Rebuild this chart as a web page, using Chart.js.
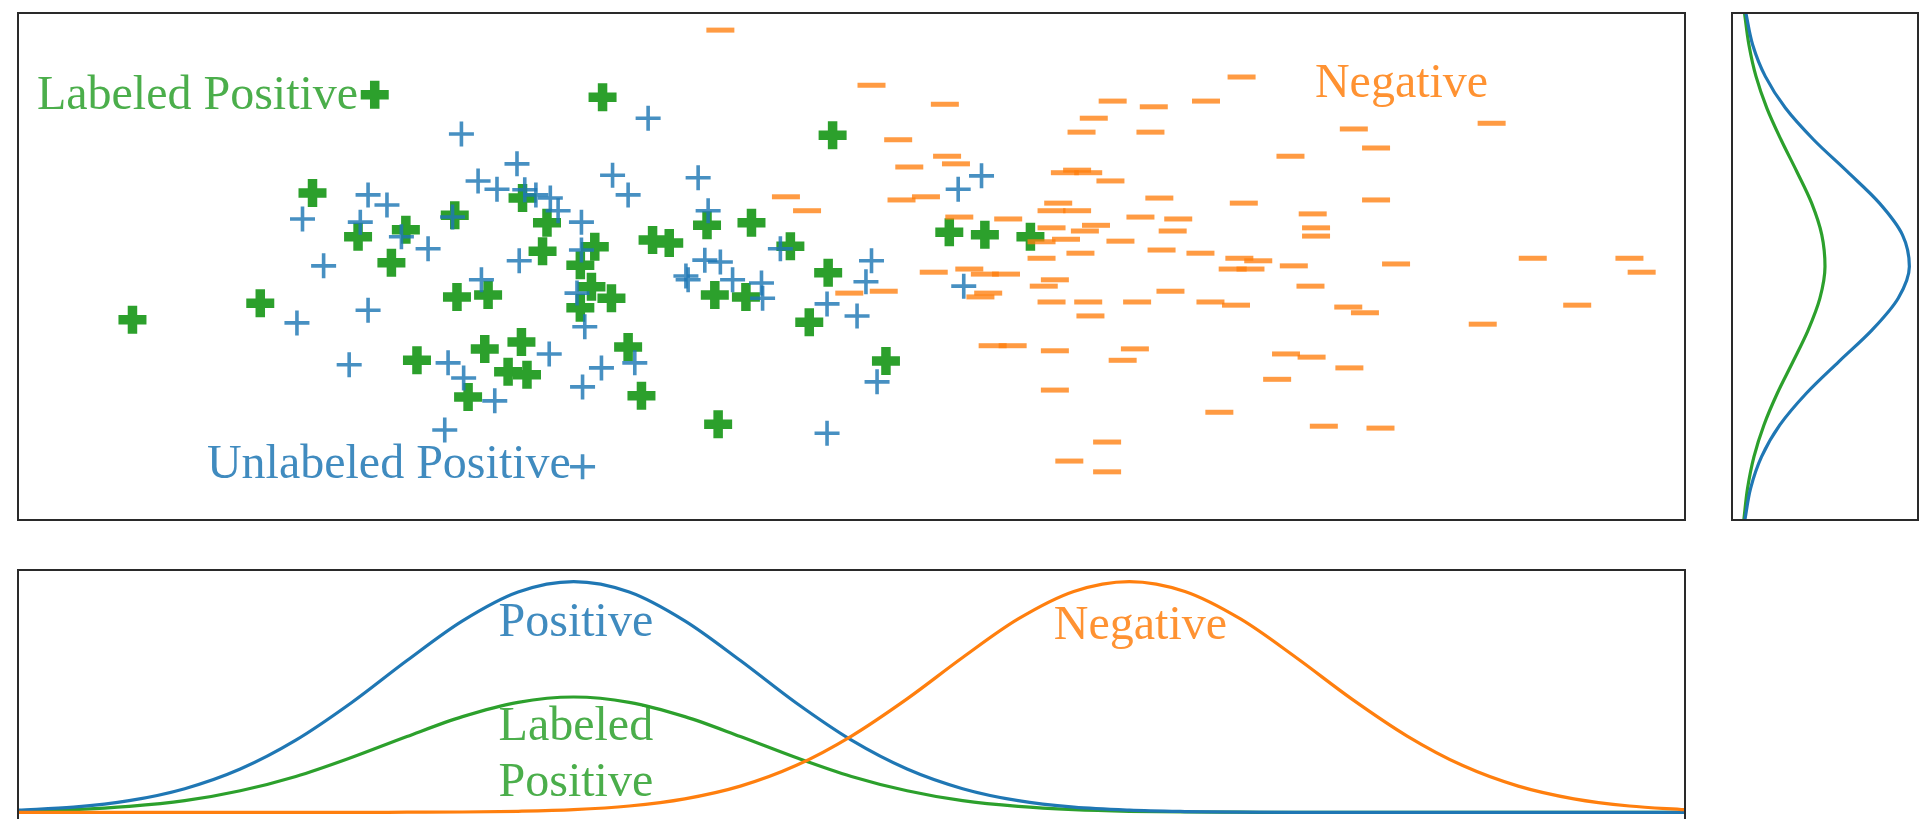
<!DOCTYPE html>
<html>
<head>
<meta charset="utf-8">
<title>PU scatter with marginal densities</title>
<script src="https://cdn.jsdelivr.net/npm/chart.js@4.4.1/dist/chart.umd.min.js"></script>
<style>
  html, body { margin: 0; padding: 0; background: #ffffff; width: 1931px; height: 819px; overflow: hidden; }
  canvas { position: absolute; }
  #scatter  { left: 12px;   top: 7px;   }
  #marginY  { left: 1726px; top: 7px;   }
  #marginX  { left: 12px;   top: 564px; }
</style>
</head>
<body>
<canvas id="scatter" width="1679" height="519" style="width:1679px;height:519px"></canvas>
<canvas id="marginY" width="198" height="519" style="width:198px;height:519px"></canvas>
<canvas id="marginX" width="1679" height="266" style="width:1679px;height:266px"></canvas>
<script>
// ---- sample points (feature 1 on x, feature 2 on y) ----
const unlabeledX = [-1.01,-0.51,-0.86,-0.69,-0.44,-0.34,-0.21,-0.14,0.35,0.49,-1.85,-1.68,-2.44,-1.92,-1.09,-1.55,-1.31,0.07,0.07,-0.49,-2.25,-0.83,0.03,0.10,-1.85,-2.49,-2.02,-1.13,-0.99,-0.71,-0.22,0.25,0.55,0.08,-1.16,1.12,1.21,1.18,1.32,1.01,1.03,1.43,1.69,1.70,1.86,2.28,2.55,2.68,2.63,2.73,2.28,3.46,3.67,3.51,0.67,0.08];
const unlabeledY = [2.09,1.62,1.35,1.22,1.21,1.13,1.08,0.88,1.44,1.13,1.13,0.97,0.75,0.70,0.78,0.47,0.28,0.70,0.26,0.09,0.01,-0.21,-0.42,-0.95,-0.69,-0.89,-1.55,-1.52,-1.76,-2.12,-1.38,-1.60,-1.52,-1.90,-2.58,1.40,0.88,0.10,0.07,-0.15,-0.21,-0.21,-0.26,-0.50,0.28,-0.59,-0.78,0.09,-0.24,-1.82,-2.63,1.22,1.43,-0.31,2.34,-3.16];

const labeledX = [-1.79,0.26,2.33,-2.35,-1.94,-1.51,-1.64,-1.07,-0.46,-0.24,-0.28,0.19,0.06,0.71,0.86,-2.82,-3.97,-1.05,-0.77,0.16,0.34,0.06,-1.41,-0.80,-0.47,-0.59,-0.42,-0.95,0.49,0.61,1.20,1.60,1.95,2.29,1.27,1.55,2.12,2.81,1.30,3.38,3.70,4.11];
const labeledY = [2.71,2.67,2.07,1.16,0.47,0.58,0.06,0.81,1.08,0.69,0.24,0.31,0.02,0.42,0.37,-0.58,-0.84,-0.48,-0.45,-0.32,-0.50,-0.65,-1.48,-1.30,-1.19,-1.66,-1.71,-2.06,-1.27,-2.04,0.65,0.69,0.32,-0.10,-0.45,-0.48,-0.88,-1.49,-2.49,0.54,0.50,0.47];

const negativeX = [1.32,2.68,3.34,2.92,3.36,3.44,3.02,1.91,2.10,2.95,
  3.17,3.47,3.91,3.24,3.56,3.70,3.89,2.48,2.79,3.66,
  3.73,3.77,3.95,4.68,4.57,5.19,7.02,7.22,6.45,4.53,
  4.42,4.63,4.83,5.27,6.03,7.22,4.36,4.30,4.53,5.10,
  5.44,5.39,6.65,6.68,6.68,4.30,4.70,4.60,4.43,4.21,
  4.92,5.29,5.64,5.99,6.16,5.93,6.09,6.48,7.40,4.21,
  4.56,4.33,4.23,5.37,6.63,4.30,4.63,5.07,5.73,5.96,
  6.97,7.12,4.65,4.33,5.05,4.94,6.41,6.64,6.98,6.33,
  4.33,5.81,6.01,5.69,4.85,5.22,8.26,8.63,9.50,9.61,
  8.18,9.03,6.75,7.26,4.80,4.46,4.80];
const negativeY = [3.73,2.86,2.56,2.00,1.74,1.62,1.57,1.10,0.88,1.05,
  1.10,0.78,0.75,-0.09,-0.04,-0.12,-0.12,-0.42,-0.39,-0.48,
  -0.42,-1.25,-1.25,2.34,2.12,2.12,2.17,1.87,1.74,1.52,
  1.48,1.48,1.35,1.08,1.00,1.05,1.00,0.88,0.88,0.78,
  0.75,0.56,0.83,0.61,0.48,0.61,0.65,0.56,0.43,0.39,
  0.40,0.26,0.21,0.13,0.09,-0.04,-0.04,0.01,0.04,0.13,
  0.21,-0.21,-0.31,-0.39,-0.31,-0.56,-0.56,-0.56,-0.56,-0.61,
  -0.64,-0.73,-0.78,-1.33,-1.30,-1.48,-1.38,-1.43,-1.60,-1.78,
  -1.95,-2.30,2.99,2.61,2.61,2.52,2.26,0.13,0.13,-0.09,
  -0.91,-0.61,-2.52,-2.55,-2.77,-3.07,-3.24];

// ---- densities along feature 1 (bottom panel) ----
const gridX = [-5,-4.5,-4,-3.5,-3,-2.5,-2,-1.5,-1,-0.5,0,0.5,1,1.5,2,2.5,3,3.5,4,4.5,5,5.5,6,6.5,7,7.5,8,8.5,9,9.5,10];
const densityPositive = [0.010,0.023,0.051,0.103,0.188,0.313,0.475,0.658,0.830,0.955,1.000,0.955,0.830,0.658,0.475,0.313,0.188,0.103,0.051,0.023,0.010,0.004,0.001,0,0,0,0,0,0,0,0];
const densityLabeled  = [0.005,0.012,0.026,0.051,0.094,0.156,0.238,0.329,0.415,0.477,0.500,0.477,0.415,0.329,0.238,0.156,0.094,0.051,0.026,0.012,0.005,0.002,0.001,0,0,0,0,0,0,0,0];
const densityNegative = [0,0,0,0,0,0,0,0.001,0.002,0.005,0.012,0.028,0.059,0.114,0.203,0.331,0.492,0.671,0.838,0.957,1.000,0.957,0.838,0.671,0.492,0.331,0.203,0.114,0.059,0.028,0.012];

// ---- densities along feature 2 (right panel) ----
const gridY = [-4,-3.5,-3,-2.5,-2,-1.5,-1,-0.5,0,0.5,1,1.5,2,2.5,3,3.5,4];
const marginPositive = [0.026,0.060,0.125,0.233,0.390,0.582,0.779,0.933,0.999,0.958,0.822,0.631,0.433,0.266,0.147,0.072,0.032];
const marginLabeled  = [0.020,0.042,0.080,0.139,0.218,0.311,0.401,0.470,0.500,0.481,0.421,0.333,0.240,0.156,0.092,0.050,0.024];

// ---- text ----
const scatterText = ['Labeled Positive', 'Unlabeled Positive', 'Negative'];
const densityText = ['Positive', 'Labeled', 'Positive', 'Negative'];

// ---- colours ----
const BLUE = '#1f77b4', ORANGE = '#ff7f0e', GREEN = '#2ca02c';
const BLUE_A = 'rgba(31,119,180,0.82)', ORANGE_A = 'rgba(255,127,14,0.78)';
const BLUE_T = 'rgba(31,119,180,0.85)', ORANGE_T = 'rgba(255,127,14,0.85)', GREEN_T = 'rgba(44,160,44,0.85)';
const FONT = '48px "Liberation Serif", "DejaVu Serif", serif';

const pts = (xs, ys) => xs.map((x, i) => ({ x: x, y: ys[i] }));

const framePlugin = {
  id: 'frame',
  afterDraw(chart) {
    const a = chart.chartArea, c = chart.ctx;
    c.save();
    c.strokeStyle = '#2a2a2a';
    c.lineWidth = 2;
    c.strokeRect(a.left, a.top, a.right - a.left, a.bottom - a.top);
    c.restore();
  }
};

const textPlugin = {
  id: 'panelText',
  afterDatasetsDraw(chart, args, opts) {
    const c = chart.ctx;
    c.save();
    c.font = FONT;
    c.textBaseline = 'alphabetic';
    (opts.items || []).forEach(it => {
      c.fillStyle = it.color;
      c.textAlign = it.align || 'left';
      c.fillText(it.text, chart.scales.x.getPixelForValue(it.x), chart.scales.y.getPixelForValue(it.y));
    });
    c.restore();
  }
};

const common = {
  responsive: false,
  animation: false,
  devicePixelRatio: 1,
  events: [],
  layout: { padding: 6, autoPadding: false }
};

// main scatter
new Chart(document.getElementById('scatter'), {
  type: 'scatter',
  data: {
    datasets: [
      { label: 'Negative', data: pts(negativeX, negativeY), pointStyle: 'line', pointRadius: 14,
        pointBorderWidth: 5, pointBorderColor: ORANGE_A, pointBackgroundColor: ORANGE_A },
      { label: 'Unlabeled Positive', data: pts(unlabeledX, unlabeledY), pointStyle: 'cross', pointRadius: 12.5,
        pointBorderWidth: 3.6, pointBorderColor: BLUE_A, pointBackgroundColor: BLUE_A },
      { label: 'Labeled Positive', data: pts(labeledX, labeledY), pointStyle: 'cross', pointRadius: 14,
        pointBorderWidth: 9.5, pointBorderColor: GREEN, pointBackgroundColor: GREEN }
    ]
  },
  options: Object.assign({}, common, {
    scales: {
      x: { type: 'linear', min: -5, max: 10, display: false },
      y: { type: 'linear', min: -4, max: 4, display: false }
    },
    plugins: {
      legend: { display: false },
      tooltip: { enabled: false },
      panelText: { items: [
        { text: scatterText[0], x: -4.83, y: 2.49, color: GREEN_T },
        { text: scatterText[1], x: -3.30, y: -3.34, color: BLUE_T },
        { text: scatterText[2], x: 6.67, y: 2.67, color: ORANGE_T }
      ] }
    }
  }),
  plugins: [framePlugin, textPlugin]
});

// right marginal: densities along feature 2
new Chart(document.getElementById('marginY'), {
  type: 'line',
  data: {
    datasets: [
      { data: gridY.map((y, i) => ({ x: marginPositive[i], y: y })), borderColor: BLUE, borderWidth: 3.2,
        pointRadius: 0, fill: false, cubicInterpolationMode: 'monotone' },
      { data: gridY.map((y, i) => ({ x: marginLabeled[i], y: y })), borderColor: GREEN, borderWidth: 3.2,
        pointRadius: 0, fill: false, cubicInterpolationMode: 'monotone' }
    ]
  },
  options: Object.assign({}, common, {
    indexAxis: 'y',
    scales: {
      x: { type: 'linear', min: -0.05, max: 1.05, display: false },
      y: { type: 'linear', min: -4, max: 4, display: false }
    },
    plugins: { legend: { display: false }, tooltip: { enabled: false } }
  }),
  plugins: [framePlugin]
});

// bottom marginal: densities along feature 1
new Chart(document.getElementById('marginX'), {
  type: 'line',
  data: {
    datasets: [
      { data: gridX.map((x, i) => ({ x: x, y: densityNegative[i] })), borderColor: ORANGE, borderWidth: 3.2,
        pointRadius: 0, fill: false, cubicInterpolationMode: 'monotone' },
      { data: gridX.map((x, i) => ({ x: x, y: densityPositive[i] })), borderColor: BLUE, borderWidth: 3.2,
        pointRadius: 0, fill: false, cubicInterpolationMode: 'monotone' },
      { data: gridX.map((x, i) => ({ x: x, y: densityLabeled[i] })), borderColor: GREEN, borderWidth: 3.2,
        pointRadius: 0, fill: false, cubicInterpolationMode: 'monotone' }
    ]
  },
  options: Object.assign({}, common, {
    scales: {
      x: { type: 'linear', min: -5, max: 10, display: false },
      y: { type: 'linear', min: -0.05, max: 1.05, display: false }
    },
    plugins: {
      legend: { display: false },
      tooltip: { enabled: false },
      panelText: { items: [
        { text: densityText[0], x: 0.02, y: 0.766, color: BLUE_T, align: 'center' },
        { text: densityText[1], x: 0.02, y: 0.315, color: GREEN_T, align: 'center' },
        { text: densityText[2], x: 0.02, y: 0.072, color: GREEN_T, align: 'center' },
        { text: densityText[3], x: 5.10, y: 0.753, color: ORANGE_T, align: 'center' }
      ] }
    }
  }),
  plugins: [framePlugin, textPlugin]
});
</script>
</body>
</html>
